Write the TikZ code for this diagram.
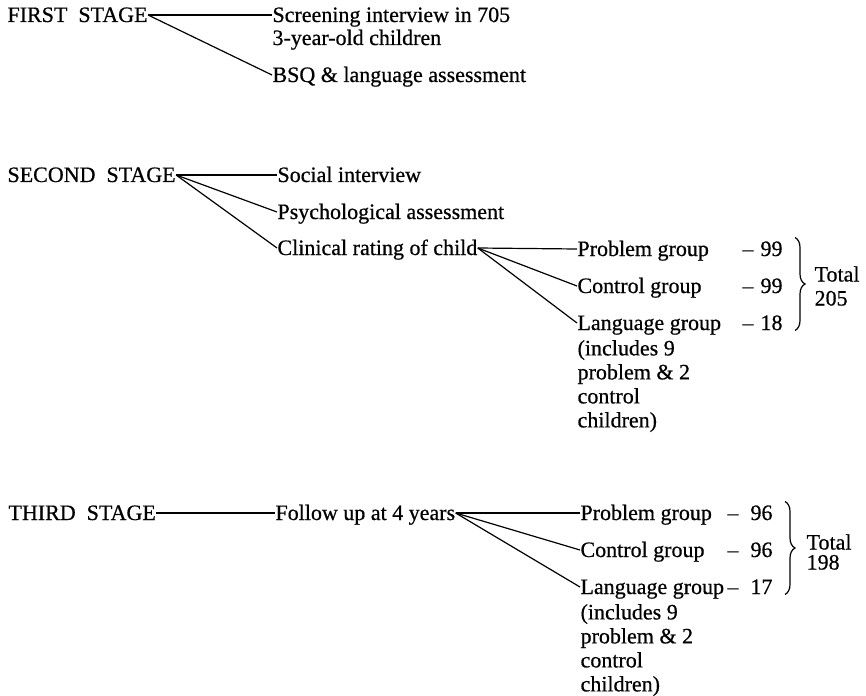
\documentclass[tikz,border=0pt]{standalone}
\usepackage{fontspec}
\setmainfont{Liberation Serif}[FakeBold=0.6]
\usetikzlibrary{positioning,decorations.pathreplacing}

\begin{document}
\begin{tikzpicture}[x=1pt,y=-1pt,line width=1.2pt,
		txt/.style={inner sep=0pt,outer sep=0.5pt,anchor=west,text height=14pt,text depth=0pt,font=\fontsize{22}{24}\selectfont},
		par/.style={inner sep=0pt,anchor=north west,align=left,font=\fontsize{22}{24}\selectfont},
		brc/.style={decorate,decoration={brace,amplitude=10pt}}]
			\useasboundingbox (0,0) rectangle (866,695);
			\node[txt] (S1)at(7,15) {FIRST\ \ STAGE};
			\node[txt] (F1)at(272,15) {Screening interview in 705};
			\node[txt,below=8pt of F1.south west,anchor=north west] (F1b) {3-year-old children};
			\node[txt] (F2)at(272,75) {BSQ \& language assessment};
			\node[txt] (S2)at(7,175) {SECOND\ \ STAGE};
			\node[txt] (P1)at(277,175) {Social interview};
			\node[txt] (P2)at(277,212) {Psychological assessment};
			\node[txt] (P3)at(277,248) {Clinical rating of child};
			\node[txt] (G1)at(577,249) {Problem group};
			\node[txt] (G2)at(577,286) {Control group};
			\node[txt] (G3)at(577,323) {Language group};
			\node[par,below=9pt of G3.south west,anchor=north west] (G3b) {(includes 9\\problem \& 2\\control\\children)};
			\node[txt,anchor=east] (V1)at(783,249) {\textendash\hspace{7pt}99};
			\node[txt,anchor=east] (V2)at(783,286) {\textendash\hspace{7pt}99};
			\node[txt,anchor=east] (V3)at(783,323) {\textendash\hspace{7pt}18};
			\node[par,anchor=west] (T1)at(814,286) {Total\\205};
			\node[txt] (S3)at(8,513) {THIRD\ \ STAGE};
			\node[txt] (U1)at(275,513) {Follow up at 4 years};
			\node[txt] (H1)at(580,513) {Problem group};
			\node[txt] (H2)at(580,550) {Control group};
			\node[txt] (H3)at(580,587) {Language group};
			\node[par,below=9pt of H3.south west,anchor=north west] (H3b) {(includes 9\\problem \& 2\\control\\children)};
			\node[txt,anchor=east] (X1)at(773,513) {\textendash\hspace{12pt}96};
			\node[txt,anchor=east] (X2)at(773,550) {\textendash\hspace{12pt}96};
			\node[txt,anchor=east] (X3)at(773,587) {\textendash\hspace{12pt}17};
			\node[par,anchor=west] (T2)at(806,552) {Total\\[-4pt]198};
			\draw (S1.east) -- (F1.west);
			\draw (S1.east) -- (F2.west);
			\draw (S2.east) -- (P1.west);
			\draw (S2.east) -- (P2.west);
			\draw (S2.east) -- (P3.west);
			\draw (P3.east) -- (G1.west);
			\draw (P3.east) -- (G2.west);
			\draw (P3.east) -- (G3.west);
			\draw[brc] ([xshift=12pt,yshift=4pt]V1.north east) -- ([xshift=12pt]V3.south east);
			\draw (S3.east) -- (U1.west);
			\draw (U1.east) -- (H1.west);
			\draw (U1.east) -- (H2.west);
			\draw (U1.east) -- (H3.west);
			\draw[brc] ([xshift=12pt,yshift=4pt]X1.north east) -- ([xshift=12pt]X3.south east);
		\end{tikzpicture}
\end{document}
